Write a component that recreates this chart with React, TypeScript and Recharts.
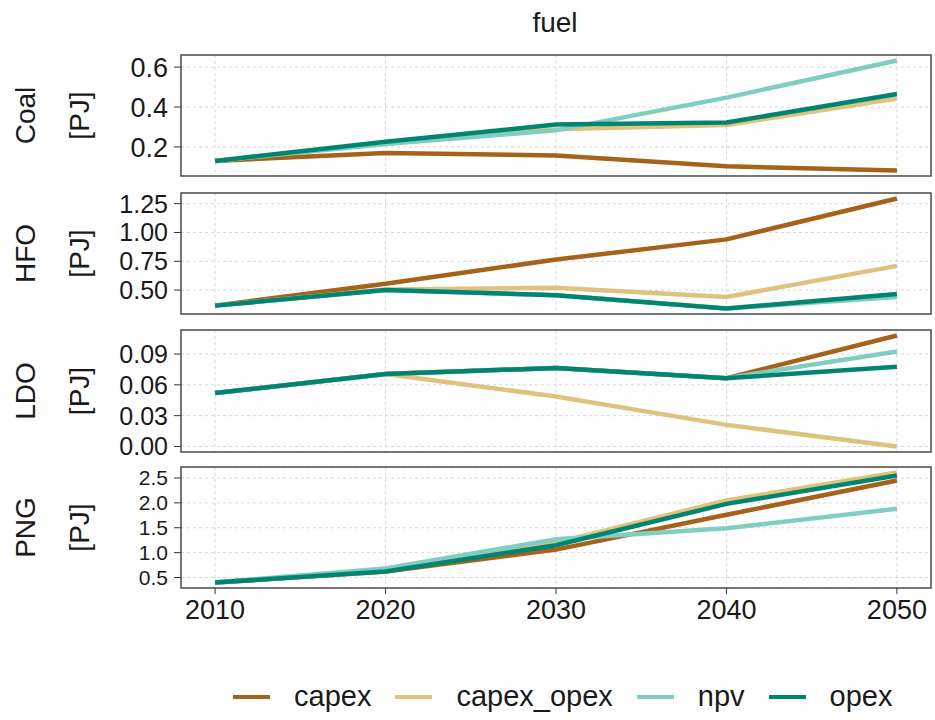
import React from 'react';
import { LineChart, Line, XAxis, YAxis, CartesianGrid, ReferenceArea, Legend } from 'recharts';

const FONT = '"Liberation Sans", Arial, Helvetica, sans-serif';

const years = [2010, 2020, 2030, 2040, 2050];
const series = ['capex', 'capex_opex', 'npv', 'opex'];
const COLORS = ['#a6611a', '#dfc27d', '#80cdc1', '#018571'];

// values, [PJ]
const coalCapex = [0.13, 0.17, 0.157, 0.103, 0.082];
const coalCapexOpex = [0.13, 0.222, 0.288, 0.31, 0.443];
const coalNpv = [0.13, 0.215, 0.283, 0.447, 0.633];
const coalOpex = [0.13, 0.226, 0.312, 0.322, 0.465];

const hfoCapex = [0.365, 0.555, 0.765, 0.94, 1.295];
const hfoCapexOpex = [0.365, 0.505, 0.52, 0.44, 0.71];
const hfoNpv = [0.365, 0.5, 0.455, 0.34, 0.44];
const hfoOpex = [0.365, 0.5, 0.455, 0.34, 0.465];

const ldoCapex = [0.052, 0.0705, 0.0765, 0.0665, 0.108];
const ldoCapexOpex = [0.052, 0.0705, 0.0487, 0.021, 0.0];
const ldoNpv = [0.052, 0.0705, 0.0765, 0.0665, 0.0925];
const ldoOpex = [0.052, 0.0705, 0.0765, 0.0665, 0.0775];

const pngCapex = [0.4, 0.62, 1.06, 1.76, 2.45];
const pngCapexOpex = [0.4, 0.63, 1.2, 2.05, 2.61];
const pngNpv = [0.4, 0.68, 1.27, 1.49, 1.88];
const pngOpex = [0.4, 0.62, 1.15, 1.98, 2.55];

const coalTicks = [0.2, 0.4, 0.6];
const hfoTicks = [0.5, 0.75, 1.0, 1.25];
const ldoTicks = [0, 0.03, 0.06, 0.09];
const pngTicks = [0.5, 1.0, 1.5, 2.0, 2.5];

type Panel = {
  name: string;
  values: number[][];
  ticks: number[];
  digits: number;
  top: number;
  bottom: number;
  tickSize: number;
};

// PNG ticks sit only ~25px apart, so a smaller font keeps the labels from colliding
const panels: Panel[] = [
  { name: 'Coal', values: [coalCapex, coalCapexOpex, coalNpv, coalOpex], ticks: coalTicks, digits: 1, top: 55, bottom: 176, tickSize: 27 },
  { name: 'HFO', values: [hfoCapex, hfoCapexOpex, hfoNpv, hfoOpex], ticks: hfoTicks, digits: 2, top: 193, bottom: 314, tickSize: 25 },
  { name: 'LDO', values: [ldoCapex, ldoCapexOpex, ldoNpv, ldoOpex], ticks: ldoTicks, digits: 2, top: 330, bottom: 452, tickSize: 25 },
  { name: 'PNG', values: [pngCapex, pngCapexOpex, pngNpv, pngOpex], ticks: pngTicks, digits: 1, top: 467, bottom: 588, tickSize: 21 },
];

const toRows = (values: number[][]) =>
  years.map((year, i) => {
    const row: Record<string, number> = { year };
    series.forEach((s, k) => (row[s] = values[k][i]));
    return row;
  });

// ggplot style 5% expansion
const padded = (values: number[][]): [number, number] => {
  const all = values.flat();
  const lo = Math.min(...all);
  const hi = Math.max(...all);
  const pad = (hi - lo) * 0.05;
  return [lo - pad, hi + pad];
};

const xDomain: [number, number] = [2008, 2052];

const yLabel = (name: string) => (props: any) => {
  const vb = props.viewBox || { y: 0, height: 0 };
  const cy = vb.y + vb.height / 2;
  return (
    <g>
      <text x={25} y={cy} transform={`rotate(-90 25 ${cy})`} textAnchor="middle" dominantBaseline="central"
        fontSize={28} fontFamily={FONT} fill="#1a1a1a">{name}</text>
      <text x={79} y={cy} transform={`rotate(-90 79 ${cy})`} textAnchor="middle" dominantBaseline="central"
        fontSize={28} fontFamily={FONT} fill="#1a1a1a">[PJ]</text>
    </g>
  );
};

const renderLegend = (props: any) => (
  <div style={{ display: 'flex', alignItems: 'center', paddingLeft: 233, fontFamily: FONT, fontSize: 29, color: '#1a1a1a' }}>
    {(props.payload || []).map((e: any) => (
      <div key={e.value} style={{ display: 'flex', alignItems: 'center', marginRight: 24 }}>
        <span style={{ display: 'inline-block', width: 37, height: 4, background: e.color, marginRight: 24 }} />
        <span>{e.value}</span>
      </div>
    ))}
  </div>
);

function FacetPanel({ panel, first, last }: { panel: Panel; first: boolean; last: boolean }) {
  const rows = toRows(panel.values);
  const domain = padded(panel.values);
  const chartTop = first ? 0 : panel.top - 10;
  const height = last ? 720 - chartTop : panel.bottom + 10 - chartTop;
  const margin = {
    top: panel.top - chartTop,
    right: 4,
    left: 0,
    bottom: last ? 720 - panel.bottom - 40 : 10,
  };
  const xTick = { fontSize: 27, fontFamily: FONT, fill: '#1a1a1a' };
  const yTick = { fontSize: panel.tickSize, fontFamily: FONT, fill: '#1a1a1a' };
  return (
    <div style={{ position: 'absolute', left: 0, top: chartTop }}>
      <LineChart width={935} height={height} data={rows} margin={margin}>
        <CartesianGrid stroke="#d6d6d6" strokeDasharray="3 3" />
        <XAxis dataKey="year" type="number" domain={xDomain} ticks={years} interval={0} hide={!last} height={40}
          tickSize={6} tickMargin={6} axisLine={false} tickLine={{ stroke: '#333' }} tick={xTick}
          allowDataOverflow />
        <YAxis type="number" domain={domain} ticks={panel.ticks} interval={0} width={181} tickSize={7} tickMargin={6}
          axisLine={false} tickLine={{ stroke: '#333' }} tick={yTick} allowDataOverflow
          tickFormatter={(v: number) => v.toFixed(panel.digits)} label={yLabel(panel.name)} />
        <ReferenceArea x1={xDomain[0]} x2={xDomain[1]} y1={domain[0]} y2={domain[1]} fill="none"
          stroke="#4d4d4d" strokeWidth={1.5} ifOverflow="visible" />
        {series.map((s, k) => (
          <Line key={s} dataKey={s} name={s} type="linear" stroke={COLORS[k]} strokeWidth={4.5}
            dot={false} activeDot={false} isAnimationActive={false} />
        ))}
        {first && (
          <text x={555} y={32} textAnchor="middle" fontSize={28} fontFamily={FONT} fill="#1a1a1a">fuel</text>
        )}
        {last && (
          <Legend verticalAlign="middle" align="center" content={renderLegend}
            wrapperStyle={{ top: 697 - chartTop - 17, left: 0, width: 935, height: 34 }} />
        )}
      </LineChart>
    </div>
  );
}

export default function App() {
  return (
    <div style={{ position: 'absolute', left: 0, top: 0, width: 935, height: 720, background: '#fff' }}>
      {panels.map((p, i) => (
        <FacetPanel key={p.name} panel={p} first={i === 0} last={i === panels.length - 1} />
      ))}
    </div>
  );
}
